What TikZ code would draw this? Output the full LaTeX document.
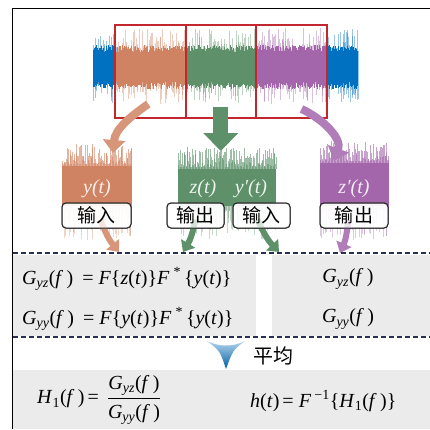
\documentclass[tikz,border=0pt]{standalone}
\usepackage{amsmath}
\usepackage{fontspec}
\setmainfont{Liberation Serif}
\newfontfamily\cjk{Noto Sans CJK SC}
\usetikzlibrary{calc, positioning, arrows.meta}

\definecolor{sigB}{RGB}{0,112,192}
\definecolor{sigY}{RGB}{208,131,98}
\definecolor{sigZ}{RGB}{94,145,106}
\definecolor{sigP}{RGB}{163,102,171}
\definecolor{cadre}{RGB}{193,39,45}
\definecolor{trait}{RGB}{40,48,80}
\definecolor{fond}{RGB}{235,235,235}

\begin{document}
\begin{tikzpicture}[x=1pt, y=1pt,
        >=latex,
        % Styles des segments et étiquettes
        seg/.style={draw=cadre, line width=2pt, minimum height=93pt, inner sep=0pt},
        lbl/.style={draw=black!85, rounded corners=4pt, fill=white, fill opacity=.75,
                    text opacity=1, line width=1pt, minimum height=25pt, inner sep=0pt,
                    font=\cjk\fontsize{19}{19}\selectfont},
        sig/.style={text=white!88!#1, font=\itshape\fontsize{20}{20}\selectfont, inner sep=0pt},
        eq/.style={font=\fontsize{20}{20}\selectfont, inner sep=0pt},
        % Flèches
        fleche/.style={draw=#1, line width=8pt, -{Triangle[length=13pt,width=22pt]}},
        petite/.style={draw=#1, line width=6pt, -{Triangle[length=10pt,width=16pt]}},
        sep/.style={draw=trait, line width=1.2pt, dash pattern=on 5pt off 3pt},
    ]
    \useasboundingbox (0,0) rectangle (430,-429);

    %% ── Fonds gris ──
    \fill[fond] (13,-255) rectangle (256,-336);
    \fill[fond] (272,-255) rectangle (430,-336);
    \fill[fond] (13,-370) rectangle (430,-429);

    %% ── Signal complet ──
    \pgfmathsetseed{11}
    \foreach \xa/\xb/\col in {93/116/sigB, 116.6/185/sigY, 185.6/256/sigZ,
                              256.6/326/sigP, 326.6/358/sigB}{
        \pgfmathsetmacro\xs{\xa+0.6}
        \foreach \x in {\xa,\xs,...,\xb}{
            \pgfmathsetmacro\hu{15+24*rnd^3}
            \pgfmathsetmacro\hd{15+22*rnd^3}
            \draw[\col, opacity=.4, line width=.6pt] (\x,-67+\hu) -- (\x,-67-\hd);
            \pgfmathsetmacro\cu{15+7*rnd}
            \pgfmathsetmacro\cd{15+7*rnd}
            \draw[\col, line width=.7pt] (\x,-67+\cu) -- (\x,-67-\cd);
        }
    }

    % Fenêtres rouges
    \node[seg, minimum width=70.5pt] (segY)  at (150.25,-71.5) {};
    \node[seg, minimum width=70.5pt] (segZ)  at (220.75,-71.5) {};
    \node[seg, minimum width=71pt]   (segZp) at (291.5,-71.5)  {};

    %% ── Extraits ──
    \foreach \xa/\xb/\yt/\col in {62/132/166/sigY, 178/276/169/sigZ, 320/389/163/sigP}{
        \fill[\col] (\xa,-\yt) rectangle (\xb,-206);
        \pgfmathsetmacro\xs{\xa+0.6}
        \foreach \x in {\xa,\xs,...,\xb}{
            \pgfmathsetmacro\h{2+20*rnd^2}
            \draw[\col, opacity=.6, line width=.6pt] (\x,-\yt) -- ++(0,\h);
            \pgfmathsetmacro\b{4+30*rnd^2}
            \draw[\col, opacity=.35, line width=.6pt] (\x,-206) -- ++(0,-\b);
        }
    }

    % Extrémités des flèches
    \coordinate (pY)  at (113,-153);
    \coordinate (pZ)  at (220.75,-151);
    \coordinate (pZp) at (334,-161);
    \coordinate (qY)  at (119,-252);
    \coordinate (qZ)  at (183,-252);
    \coordinate (qYp) at (279,-252);
    \coordinate (qZp) at (340,-253);

    \draw[fleche=sigY!85] ($(segY.south)+(-2,15)$) to[out=215, in=85] (pY);
    \draw[draw=sigZ, line width=15pt, -{Triangle[length=18pt,width=34pt]}]
        ($(segZ.south)+(0,12)$) -- (pZ);
    \draw[fleche=sigP!85] ($(segZp.south)+(10,10)$) to[out=-25, in=70] (pZp);

    %% ── Étiquettes entrée / sortie ──
    \node[sig=sigY] (sY)  at (97,-189)  {y(t)};
    \node[sig=sigZ] (sZ)  at (203,-189) {z(t)};
    \node[sig=sigZ] (sYp) at (251,-189) {y′(t)};
    \node[sig=sigP] (sZp) at (354,-189) {z′(t)};

    \node[lbl, minimum width=69pt] (bInY)   at (96.5,-215.5)  {};
    \node[lbl, minimum width=57pt] (bOutZ)  at (195.5,-215.5) {};
    \node[lbl, minimum width=57pt] (bInYp)  at (261.5,-215.5) {};
    \node[lbl, minimum width=68pt] (bOutZp) at (354,-215.5)   {};

    \draw[petite=sigY!85] ($(bInY.center)+(4,-4)$) to[bend right=10] (qY);
    \draw[petite=sigZ] ($(bOutZ.center)+(0,-4)$) to[bend left=10] (qZ);
    \draw[petite=sigZ] ($(bInYp.center)+(-4,-4)$) to[bend right=10] (qYp);
    \draw[petite=sigP!85] ($(bOutZp.center)+(-6,-4)$) to[bend left=10] (qZp);

    \node[lbl, minimum width=69pt] at (bInY)   {输\hspace{1pt}入};
    \node[lbl, minimum width=57pt] at (bOutZ)  {输\hspace{1pt}出};
    \node[lbl, minimum width=57pt] at (bInYp)  {输\hspace{1pt}入};
    \node[lbl, minimum width=68pt] at (bOutZp) {输\hspace{1pt}出};

    %% ── Spectres ──
    \draw[sep] (13,-253) -- (430,-253);
    \draw[sep] (13,-337) -- (430,-337);

    \node[eq, anchor=west] (gyz) at (22,-279)
        {\textit{G}\textsubscript{\textit{yz}}(\textit{f}\,)\hspace{9pt}= \textit{F}\{\textit{z}(\textit{t})\}\textit{F}\hspace{4pt}\textsuperscript{*}\hspace{3pt}\{\textit{y}(\textit{t})\}};
    \node[eq, anchor=west] (gyy) at (22,-319)
        {\textit{G}\textsubscript{\textit{yy}}(\textit{f}\,)\hspace{9pt}= \textit{F}\{\textit{y}(\textit{t})\}\textit{F}\hspace{4pt}\textsuperscript{*}\hspace{3pt}\{\textit{y}(\textit{t})\}};
    \node[eq] (gyzm) at (348,-279) {\textit{G}\textsubscript{\textit{yz}}(\textit{f}\,)};
    \node[eq] (gyym) at (348,-319) {\textit{G}\textsubscript{\textit{yy}}(\textit{f}\,)};

    % Moyenne
    \shade[top color=sigB!30, bottom color=sigB!85!black]
        (207,-341) .. controls (219,-347) and (233,-347) .. (245,-341)
        .. controls (233,-350) .. (226,-369)
        .. controls (220,-351) .. (207,-341) -- cycle;
    \node[font=\cjk\fontsize{20}{20}\selectfont, inner sep=0pt] (moy) at (273,-356) {平均};

    %% ── Réponse impulsionnelle ──
    \node[eq, anchor=west] (h1) at (37,-400)
        {\textit{H}\textsubscript{1}(\textit{f}\,)\hspace{3pt}=\hspace{8pt}$\dfrac{\text{\textit{G}\textsubscript{\textit{yz}}(\textit{f}\,)}}{\text{\textit{G}\textsubscript{\textit{yy}}(\textit{f}\,)}}$};
    \node[eq, anchor=west] (ht) at (250,-401)
        {\textit{h}(\textit{t})\hspace{3pt}= \textit{F}\,\textsuperscript{−1}\{\textit{H}\textsubscript{1}(\textit{f}\,)\}};

    % Cadre
    \draw[line width=1.5pt] (12.5,-429) -- (12.5,-8.5) -- (430,-8.5);
\end{tikzpicture}
\end{document}
